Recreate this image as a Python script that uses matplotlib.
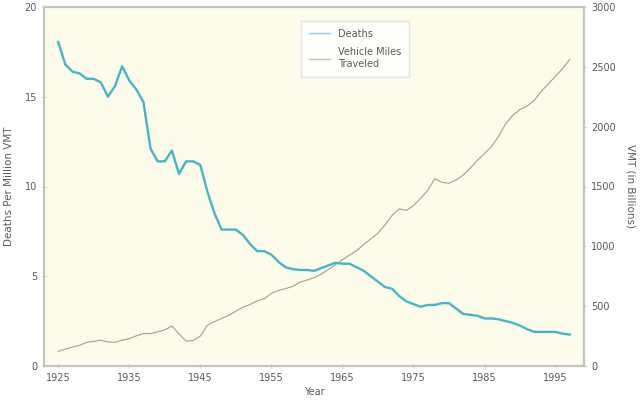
import matplotlib
matplotlib.use("Agg")
import matplotlib.pyplot as plt
import numpy as np

years = list(range(1925, 1998))
deaths = [18.05, 16.8, 16.4, 16.3, 16.0, 16.0, 15.8, 15.0, 15.6, 16.7,
          15.9, 15.4, 14.7, 12.1, 11.4, 11.4, 12.0, 10.7, 11.4, 11.4,
          11.2, 9.7, 8.5, 7.6, 7.6, 7.6, 7.3, 6.8, 6.4, 6.4,
          6.2, 5.8, 5.5, 5.4, 5.35, 5.35, 5.3, 5.45, 5.6, 5.75,
          5.7, 5.7, 5.5, 5.3, 5.0, 4.7, 4.4, 4.3, 3.9, 3.6,
          3.45, 3.3, 3.4, 3.4, 3.5, 3.5, 3.2, 2.9, 2.85, 2.8,
          2.65, 2.65, 2.6, 2.5, 2.4, 2.25, 2.05, 1.9, 1.9, 1.9,
          1.9, 1.8, 1.75]
vmt = [122, 141, 158, 173, 198, 206, 216, 201, 198, 216,
       229, 252, 271, 271, 285, 302, 334, 268, 208, 213,
       250, 341, 371, 398, 424, 458, 491, 514, 544, 562,
       606, 631, 647, 665, 700, 718, 737, 767, 805, 846,
       888, 926, 964, 1016, 1062, 1110, 1179, 1260, 1313, 1300,
       1340, 1402, 1467, 1565, 1535, 1527, 1555, 1595, 1653, 1720,
       1774, 1835, 1921, 2026, 2096, 2144, 2172, 2220, 2296, 2358,
       2423, 2486, 2562]
xticks = [1925, 1935, 1945, 1955, 1965, 1975, 1985, 1995]

txt = "#5a5a5a"
spine = "#c4c4be"
bg = "#fdfbea"

fig = plt.figure(figsize=(6.4, 4.03), dpi=100)
ax = fig.add_axes([44/640, 1-366/403, 540/640, 359/403])
ax2 = ax.twinx()

ax.plot(years, deaths, color="#45b5c8", lw=1.7, zorder=3)
ax2.plot(years, vmt, color="#a89c8c", lw=0.8)

ax.set_xlim(1923, 1999)
ax.set_ylim(0, 20)
ax2.set_ylim(0, 3000)
ax.set_xticks(xticks)
ax.set_yticks([0, 5, 10, 15, 20])
ax2.set_yticks([0, 500, 1000, 1500, 2000, 2500, 3000])

for a in (ax, ax2):
    for s in a.spines.values():
        s.set_color(spine)
        s.set_linewidth(1.5)
    a.tick_params(colors=spine, labelcolor=txt, labelsize=7, length=3,
                  direction="inout", width=0.8)

ax.set_zorder(ax2.get_zorder() + 1)
ax.patch.set_visible(False)
ax2.patch.set_visible(True)
ax2.patch.set_facecolor(bg)

ax.set_xlabel("Year", color=txt, fontsize=7, labelpad=3)
ax.set_ylabel("Deaths Per Million VMT", color=txt, fontsize=7.5, labelpad=8)
ax2.set_ylabel("VMT (in Billions)", color=txt, fontsize=7.5, rotation=270, labelpad=14)

h1 = plt.Line2D([], [], color="#8cc9dc", lw=1.0)
h2 = plt.Line2D([], [], color="#a8c4d0", lw=1.0)
leg = ax.legend([h1, h2], ["Deaths", "Vehicle Miles\nTraveled"],
                loc="upper center", bbox_to_anchor=(0.576, 0.975), fontsize=7,
                frameon=True, fancybox=False, handlelength=2.2,
                labelcolor=txt, borderpad=0.8, labelspacing=0.9)
leg.get_frame().set_edgecolor("#dddddd")
leg.get_frame().set_facecolor("#ffffff")
leg.get_frame().set_linewidth(1.0)

fig.savefig("out.png", dpi=100)
